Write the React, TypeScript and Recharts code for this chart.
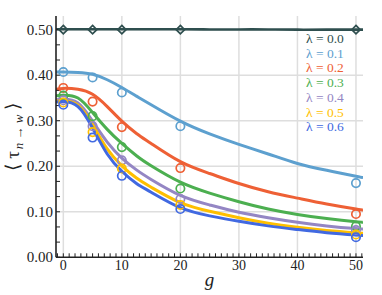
import React from 'react';
import { ComposedChart, Line, Scatter, XAxis, YAxis, CartesianGrid, Legend } from 'recharts';

// g values at which the markers were measured
const gObs = [0, 5, 10, 20, 50];
// g values sampled along the fitted curves
const gFit = [-1.25, 0, 2.5, 5, 7.5, 10, 12.5, 15, 20, 25, 30, 35, 40, 45, 50, 51.2];

// markers
const obs00 = [0.5, 0.5, 0.5, 0.5, 0.5];
const obs01 = [0.407, 0.395, 0.362, 0.288, 0.163];
const obs02 = [0.372, 0.342, 0.286, 0.196, 0.095];
const obs03 = [0.355, 0.31, 0.242, 0.151, 0.068];
const obs04 = [0.345, 0.288, 0.213, 0.128, 0.06];
const obs05 = [0.34, 0.275, 0.195, 0.115, 0.05];
const obs06 = [0.335, 0.263, 0.179, 0.106, 0.044];

// fitted curves
const fit00 = [0.501, 0.501, 0.501, 0.501, 0.501, 0.501, 0.501, 0.501, 0.501, 0.5005, 0.5005, 0.5005, 0.5, 0.5, 0.5, 0.5];
const fit01 = [0.407, 0.407, 0.406, 0.402, 0.39, 0.373, 0.354, 0.335, 0.299, 0.271, 0.248, 0.227, 0.206, 0.191, 0.178, 0.175];
const fit02 = [0.369, 0.371, 0.369, 0.358, 0.331, 0.299, 0.272, 0.25, 0.21, 0.184, 0.162, 0.144, 0.13, 0.117, 0.106, 0.104];
const fit03 = [0.355, 0.356, 0.35, 0.318, 0.281, 0.25, 0.223, 0.201, 0.165, 0.141, 0.122, 0.106, 0.094, 0.085, 0.078, 0.077];
const fit04 = [0.346, 0.347, 0.339, 0.299, 0.253, 0.218, 0.192, 0.171, 0.136, 0.115, 0.099, 0.087, 0.077, 0.069, 0.063, 0.062];
const fit05 = [0.343, 0.344, 0.334, 0.291, 0.238, 0.201, 0.174, 0.154, 0.12, 0.101, 0.087, 0.075, 0.066, 0.059, 0.054, 0.053];
const fit06 = [0.341, 0.342, 0.331, 0.284, 0.227, 0.189, 0.162, 0.143, 0.109, 0.091, 0.079, 0.069, 0.061, 0.054, 0.049, 0.048];

const lambdaLabels = ['λ = 0.0', 'λ = 0.1', 'λ = 0.2', 'λ = 0.3', 'λ = 0.4', 'λ = 0.5', 'λ = 0.6'];
const colors = ['#2F4F4F', '#5DA0CF', '#EE6035', '#4CAF50', '#9486C4', '#FFBF00', '#4169E1'];

const xMajorTicks = [0, 10, 20, 30, 40, 50];
const yMajorTicks = [0.1, 0.2, 0.3, 0.4, 0.5];
const xMinorTicks = Array.from({ length: 53 }, (_, i) => i - 1);
const yMinorTicks = Array.from({ length: 16 }, (_, i) => i / 30);

const FONT = 'Liberation Serif';

const toPoints = (gs: number[], vs: number[]) => gs.map((g, i) => ({ g, v: vs[i] }));

const series = [
  { fit: fit00, obs: obs00 },
  { fit: fit01, obs: obs01 },
  { fit: fit02, obs: obs02 },
  { fit: fit03, obs: obs03 },
  { fit: fit04, obs: obs04 },
  { fit: fit05, obs: obs05 },
  { fit: fit06, obs: obs06 },
].map((s, i) => ({
  name: lambdaLabels[i],
  color: colors[i],
  fitData: toPoints(gFit, s.fit),
  obsData: toPoints(gObs, s.obs),
  diamond: i === 0,
}));

const XTick = (props: any) => {
  const { x, y, payload } = props;
  const v = payload.value;
  if (Math.abs(v % 10) > 1e-9) return null;
  return (
    <text x={x} y={y + 17} textAnchor="middle" fontFamily={FONT} style={{ fontFamily: FONT }} fontSize={14} fill="#222">
      {String(v)}
    </text>
  );
};

const YTick = (props: any) => {
  const { x, y, payload } = props;
  const v = payload.value;
  if (Math.abs(v * 10 - Math.round(v * 10)) > 1e-6) return null;
  return (
    <text x={x - 7} y={y + 5} textAnchor="end" fontFamily={FONT} style={{ fontFamily: FONT }} fontSize={15} fill="#222">
      {v.toFixed(2)}
    </text>
  );
};

const YLabel = (props: any) => {
  const vb = props.viewBox || { x: 0, y: 16, width: 56, height: 241 };
  const cx = 19;
  const cy = vb.y + vb.height / 2;
  return (
    <text
      x={cx}
      y={cy}
      transform={`rotate(-90, ${cx}, ${cy})`}
      textAnchor="middle"
      fontFamily={FONT}
      style={{ fontFamily: FONT }}
      fontSize={19}
      fill="#222"
    >
      <tspan>{'⟨ τ'}</tspan>
      <tspan fontSize={13} dy={4} dx={2} fontStyle="italic">{'n'}</tspan>
      <tspan fontSize={13}>{' → '}</tspan>
      <tspan fontSize={13} fontStyle="italic">{'w'}</tspan>
      <tspan dy={-4}>{' ⟩'}</tspan>
    </text>
  );
};

const XLabel = (props: any) => {
  const vb = props.viewBox || { x: 56, y: 257, width: 307, height: 38 };
  return (
    <text
      x={vb.x + vb.width / 2}
      y={286}
      textAnchor="middle"
      fontFamily={FONT}
      style={{ fontFamily: FONT }}
      fontSize={19}
      fontStyle="italic"
      fill="#222"
    >
      g
    </text>
  );
};

const makeCircle = (color: string) => (props: any) => {
  const { cx, cy } = props;
  if (cx == null || cy == null) return null;
  return <circle cx={cx} cy={cy} r={4.2} fill="none" stroke={color} strokeWidth={1.7} />;
};

const makeDiamond = (color: string) => (props: any) => {
  const { cx, cy } = props;
  if (cx == null || cy == null) return null;
  const s = 4.2;
  return (
    <path
      d={`M${cx},${cy - s} L${cx + s},${cy} L${cx},${cy + s} L${cx - s},${cy} Z`}
      fill="none"
      stroke={color}
      strokeWidth={1.7}
    />
  );
};

const LegendContent = () => (
  <div style={{ fontFamily: FONT, fontSize: 13.5 }}>
    {series.map((s) => (
      <div key={s.name} style={{ color: s.color, lineHeight: '14.7px', whiteSpace: 'nowrap' }}>
        {s.name}
      </div>
    ))}
  </div>
);

export default function App() {
  return (
    <div style={{ position: 'absolute', left: 0, top: 0, background: '#fff' }}>
      <ComposedChart width={382} height={295} margin={{ top: 16, right: 19, bottom: 0, left: 0 }}>
        <CartesianGrid
          xAxisId="x"
          yAxisId="y"
          stroke="#dedede"
          strokeWidth={1.5}
          verticalValues={xMajorTicks}
          horizontalValues={yMajorTicks}
        />
        <XAxis
          xAxisId="x"
          dataKey="g"
          type="number"
          domain={[-1.25, 51.2]}
          allowDataOverflow
          ticks={xMinorTicks}
          interval={0}
          tickSize={-4}
          tickMargin={0}
          height={37.7}
          tick={<XTick />}
          tickLine={{ stroke: '#222', strokeWidth: 1 }}
          axisLine={{ stroke: '#222', strokeWidth: 1.6 }}
          label={<XLabel />}
        />
        <XAxis
          xAxisId="top"
          orientation="top"
          type="number"
          domain={[-1.25, 51.2]}
          allowDataOverflow
          ticks={xMinorTicks}
          interval={0}
          tickSize={-4}
          height={0}
          tick={false}
          tickLine={{ stroke: '#222', strokeWidth: 1 }}
          axisLine={{ stroke: '#222', strokeWidth: 1.6 }}
        />
        <YAxis
          yAxisId="y"
          type="number"
          domain={[0, 0.53]}
          allowDataOverflow
          ticks={yMinorTicks}
          interval={0}
          tickSize={-4}
          tickMargin={0}
          width={56}
          tick={<YTick />}
          tickLine={{ stroke: '#222', strokeWidth: 1 }}
          axisLine={{ stroke: '#222', strokeWidth: 1.6 }}
          label={<YLabel />}
        />
        <YAxis
          yAxisId="r"
          orientation="right"
          type="number"
          domain={[0, 0.53]}
          allowDataOverflow
          ticks={yMinorTicks}
          interval={0}
          tickSize={-4}
          width={0}
          tick={false}
          tickLine={{ stroke: '#222', strokeWidth: 1 }}
          axisLine={{ stroke: '#222', strokeWidth: 1.6 }}
        />
        {series.map((s) => (
          <Line
            key={'l' + s.name}
            xAxisId="x"
            yAxisId="y"
            data={s.fitData}
            dataKey="v"
            name={s.name}
            type="natural"
            stroke={s.color}
            strokeWidth={s.diamond ? 2.6 : 3}
            dot={false}
            activeDot={false}
            isAnimationActive={false}
          />
        ))}
        {series.map((s) => (
          <Scatter
            key={'s' + s.name}
            xAxisId="x"
            yAxisId="y"
            data={s.obsData}
            dataKey="v"
            name={s.name + ' data'}
            legendType="none"
            shape={s.diamond ? makeDiamond(s.color) : makeCircle(s.color)}
            isAnimationActive={false}
          />
        ))}
        <Legend
          layout="horizontal"
          verticalAlign="middle"
          align="center"
          content={<LegendContent />}
          wrapperStyle={{ position: 'absolute', left: 306, top: 32, width: 'auto', height: 'auto' }}
        />
      </ComposedChart>
    </div>
  );
}
